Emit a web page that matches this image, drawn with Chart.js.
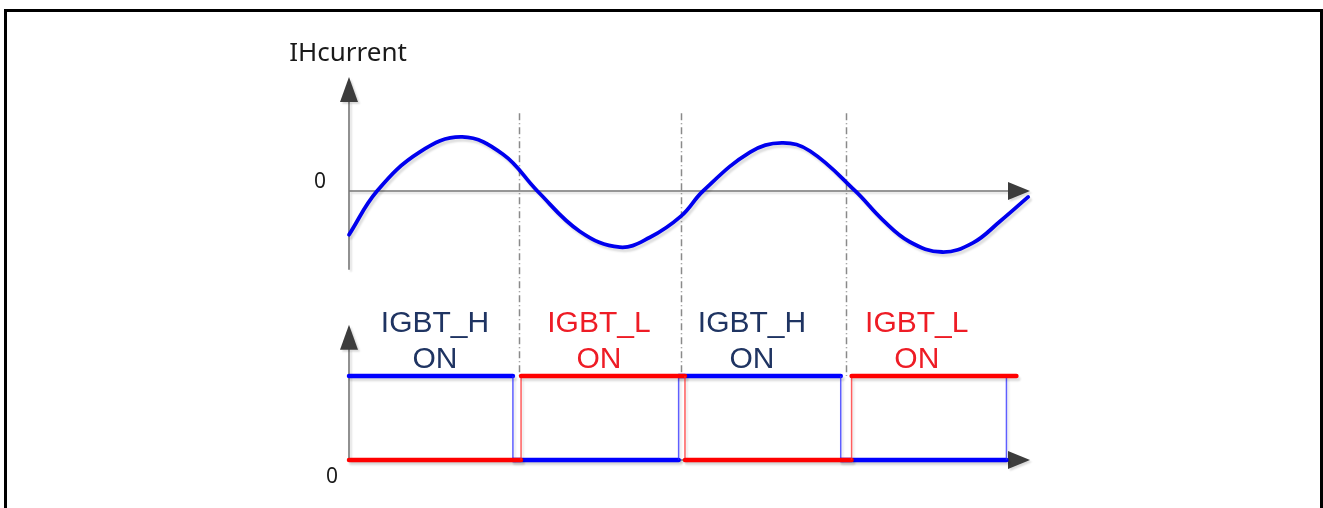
<!DOCTYPE html>
<html>
<head>
<meta charset="utf-8">
<script src="https://cdn.jsdelivr.net/npm/chart.js@4.4.1/dist/chart.umd.min.js"></script>
<style>
  html, body { margin: 0; padding: 0; background: #fff; overflow: hidden; }
  .frame { position: absolute; left: 4px; top: 9px; width: 1319px; height: 600px;
           box-sizing: border-box; border: 3px solid #000; border-bottom: none; }
  canvas { position: absolute; left: 0; top: 0; }
</style>
</head>
<body>
<div class="frame"></div>
<canvas id="c" width="1323" height="508"></canvas>
<script>
// time axis in degrees of the current phase
let waveX = [-31, 0, 47, 94, 139, 177, 224, 268, 301, 336, 360,
             412, 447, 478, 528, 558, 588, 624, 658, 688, 719];
let waveY = [-0.81, 0, 0.72, 1.0, 0.68, 0, -0.75, -1.04, -0.86, -0.46, 0,
             0.72, 0.89, 0.74, 0, -0.53, -0.94, -1.13, -0.96, -0.56, -0.11];

// gate signals (1 = ON)
let highX = [-31, 150, 150, 333, 333, 512, 512, 695, 695];
let highY = [1, 1, 0, 0, 1, 1, 0, 0, 1];
let lowX = [-31, 159, 159, 340, 340, 524, 524, 706];
let lowY = [0, 0, 1, 1, 0, 0, 1, 1];

// dashed switching instants and the labels between them
let switchTimes = [157, 336, 518];
let labelTimes = [64, 245, 414, 596];
let labelNames = ['IGBT_H', 'IGBT_L', 'IGBT_H', 'IGBT_L'];

const toPoints = (xs, ys) => xs.map((x, i) => ({ x: x, y: ys[i] }));

const NAVY = '#1f3462';
const RED = '#ee1c25';

function arrow(ctx, x, y, dir) {
    ctx.beginPath();
    if (dir === 'up') {
        ctx.moveTo(x, y);
        ctx.lineTo(x - 9, y + 25);
        ctx.lineTo(x + 9, y + 25);
    } else {
        ctx.moveTo(x, y);
        ctx.lineTo(x - 22, y - 9);
        ctx.lineTo(x - 22, y + 9);
    }
    ctx.closePath();
    ctx.fill();
}

const diagram = {
    id: 'diagram',
    beforeDatasetsDraw(chart) {
        const { ctx, scales: { x, yI, yS } } = chart;
        const x0 = x.getPixelForValue(x.min);
        const x1 = x.getPixelForValue(x.max);
        ctx.save();

        // switching guides
        ctx.strokeStyle = '#8a8a8a';
        ctx.lineWidth = 1.5;
        ctx.setLineDash([7, 3, 1, 3]);
        switchTimes.forEach(t => {
            const px = Math.round(x.getPixelForValue(t)) + 0.5;
            ctx.beginPath();
            ctx.moveTo(px, yI.getPixelForValue(1.44));
            ctx.lineTo(px, yS.getPixelForValue(1));
            ctx.stroke();
        });
        ctx.setLineDash([]);

        // axes
        ctx.shadowColor = 'rgba(0,0,0,0.15)';
        ctx.shadowOffsetX = 2;
        ctx.shadowOffsetY = 2;
        ctx.shadowBlur = 2;
        ctx.strokeStyle = '#767676';
        ctx.fillStyle = '#3c3c3c';
        ctx.lineWidth = 1.6;
        const zI = yI.getPixelForValue(0);
        const zS = yS.getPixelForValue(0);
        ctx.beginPath();
        ctx.moveTo(x0, yI.getPixelForValue(-1.46));
        ctx.lineTo(x0, yI.top + 24);
        ctx.moveTo(x0, zI);
        ctx.lineTo(x1 - 20, zI);
        ctx.moveTo(x0, zS);
        ctx.lineTo(x0, yS.getPixelForValue(1.61) + 24);
        ctx.moveTo(x0, zS);
        ctx.lineTo(x1 - 20, zS);
        ctx.stroke();
        arrow(ctx, x0, yI.top, 'up');
        arrow(ctx, x1, zI, 'right');
        arrow(ctx, x0, yS.getPixelForValue(1.61), 'up');
        arrow(ctx, x1, zS, 'right');
        ctx.restore();
    },
    beforeDatasetDraw(chart) {
        const ctx = chart.ctx;
        ctx.save();
        ctx.shadowColor = 'rgba(0,0,0,0.13)';
        ctx.shadowOffsetX = 2;
        ctx.shadowOffsetY = 3;
        ctx.shadowBlur = 2;
    },
    afterDatasetDraw(chart) {
        chart.ctx.restore();
    },
    afterDraw(chart) {
        const { ctx, scales: { x, yI, yS } } = chart;
        const x0 = x.getPixelForValue(x.min);
        ctx.save();
        ctx.textAlign = 'center';
        ctx.textBaseline = 'alphabetic';
        ctx.fillStyle = '#1a1a1a';
        ctx.font = '26px "Noto Sans"';
        ctx.fillText('IHcurrent', x0 - 1, 61);
        ctx.font = '21px "Noto Sans"';
        ctx.fillText('0', x0 - 29, yI.getPixelForValue(0) - 3);
        ctx.fillText('0', x0 - 17, yS.getPixelForValue(0) + 23);

        ctx.font = '30px "Liberation Sans"';
        labelTimes.forEach((t, i) => {
            const px = x.getPixelForValue(t);
            ctx.fillStyle = labelNames[i] === 'IGBT_H' ? NAVY : RED;
            ctx.fillText(labelNames[i], px, 332);
            ctx.fillText('ON', px, 368);
        });
        ctx.restore();
    }
};

const isVertical = c => c.p0.parsed.x === c.p1.parsed.x;

new Chart(document.getElementById('c'), {
    type: 'line',
    data: {
        datasets: [{
            label: 'IHcurrent',
            data: toPoints(waveX, waveY),
            yAxisID: 'yI',
            borderColor: '#0000ee',
            borderWidth: 3.8,
            borderCapStyle: 'round',
            tension: 0.4,
            pointRadius: 0,
            order: 0
        }, {
            label: 'IGBT_L',
            data: toPoints(lowX, lowY),
            yAxisID: 'yS',
            borderColor: '#ff0000',
            borderWidth: 4.5,
            borderCapStyle: 'round',
            pointRadius: 0,
            tension: 0,
            order: 1,
            segment: {
                borderWidth: c => isVertical(c) ? 1.5 : 4.5,
                borderColor: c => isVertical(c) ? 'rgba(255,40,40,0.75)' : '#ff0000',
                borderCapStyle: c => isVertical(c) ? 'butt' : 'round'
            }
        }, {
            label: 'IGBT_H',
            data: toPoints(highX, highY),
            yAxisID: 'yS',
            borderColor: '#0000ff',
            borderWidth: 4.5,
            borderCapStyle: 'round',
            pointRadius: 0,
            tension: 0,
            order: 2,
            segment: {
                borderWidth: c => isVertical(c) ? 1.5 : 4.5,
                borderColor: c => isVertical(c) ? 'rgba(40,40,255,0.75)' : '#0000ff',
                borderCapStyle: c => isVertical(c) ? 'butt' : 'round'
            }
        }]
    },
    options: {
        responsive: false,
        animation: false,
        clip: false,
        layout: { padding: { left: 349, right: 293, top: 77, bottom: 48 } },
        scales: {
            x: { type: 'linear', min: -31, max: 721, display: false },
            yI: { type: 'linear', min: -4.98, max: 2.11, display: false },
            yS: { type: 'linear', min: 0, max: 4.56, display: false }
        },
        plugins: {
            legend: { display: false },
            tooltip: { enabled: false }
        }
    },
    plugins: [diagram]
});
</script>
</body>
</html>
